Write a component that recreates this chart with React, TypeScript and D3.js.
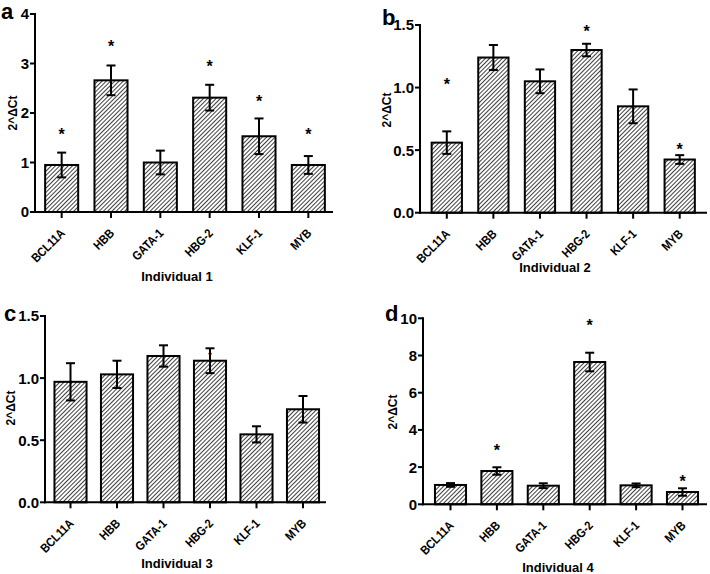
import React from "react";
import * as d3 from "d3";

const categories = ["BCL11A", "HBB", "GATA-1", "HBG-2", "KLF-1", "MYB"];

const values1 = [0.95, 2.66, 1.0, 2.31, 1.53, 0.95];
const errors1 = [0.25, 0.3, 0.24, 0.26, 0.36, 0.18];
const stars1 = [1.64, 3.41, null, 3.01, 2.3, 1.64];

const values2 = [0.56, 1.24, 1.05, 1.3, 0.85, 0.425];
const errors2 = [0.09, 0.1, 0.095, 0.05, 0.135, 0.035];
const stars2 = [1.05, null, null, 1.48, null, 0.535];

const values3 = [0.97, 1.03, 1.178, 1.14, 0.547, 0.749];
const errors3 = [0.15, 0.11, 0.086, 0.1, 0.065, 0.107];
const smallStars3 = [0.98, null, null, 1.2, null, null];

const values4 = [1.04, 1.79, 1.0, 7.65, 1.02, 0.66];
const errors4 = [0.1, 0.2, 0.13, 0.5, 0.1, 0.2];
const stars4 = [null, 3.06, null, 9.78, null, 1.43];

const ticks1 = [0, 1, 2, 3, 4];
const ticks2 = [0, 0.5, 1.0, 1.5];
const ticks4 = [0, 2, 4, 6, 8, 10];

const FONT = "'Liberation Sans', Arial, sans-serif";

type PanelProps = {
  letter: string;
  title: string;
  values: number[];
  errors: number[];
  stars: (number | null)[];
  smallStars?: (number | null)[];
  ticks: number[];
  fmt: string;
  axisX: [number, number];
  bandRange: [number, number];
  yRange: [number, number];
  pad: number;
  letterPos: [number, number];
  yLabelPos: [number, number];
  titlePos: [number, number];
};

function Panel(p: PanelProps) {
  const x = d3
    .scaleBand<string>()
    .domain(categories)
    .range(p.bandRange)
    .paddingInner(p.pad)
    .paddingOuter(p.pad / 2);
  const y = d3
    .scaleLinear()
    .domain([p.ticks[0], p.ticks[p.ticks.length - 1]])
    .range(p.yRange);
  const f = d3.format(p.fmt);
  const y0 = y(0);
  const bw = x.bandwidth();
  const cap = 4.5;
  return (
    <g>
      <text x={p.letterPos[0]} y={p.letterPos[1]} fontSize={22} fontWeight="bold" fontFamily={FONT}>
        {p.letter}
      </text>
      {categories.map((c, i) => {
        const cx = (x(c) as number) + bw / 2;
        const v = p.values[i];
        const e = p.errors[i];
        return (
          <g key={c}>
            <rect
              x={x(c)}
              y={y(v)}
              width={bw}
              height={y0 - y(v)}
              fill="url(#hatch)"
              stroke="#000"
              strokeWidth={2}
            />
            <line x1={cx} x2={cx} y1={y(v + e)} y2={y(v - e)} stroke="#000" strokeWidth={2} />
            <line x1={cx - cap} x2={cx + cap} y1={y(v + e)} y2={y(v + e)} stroke="#000" strokeWidth={2} />
            <line x1={cx - cap} x2={cx + cap} y1={y(v - e)} y2={y(v - e)} stroke="#000" strokeWidth={2} />
            {p.stars[i] != null && (
              <text
                x={cx}
                y={y(p.stars[i] as number) + 9}
                textAnchor="middle"
                fontSize={16}
                fontWeight="bold"
                fontFamily={FONT}
              >
                *
              </text>
            )}
            {p.smallStars && p.smallStars[i] != null && (
              <text
                x={cx}
                y={y(p.smallStars[i] as number) + 5}
                textAnchor="middle"
                fontSize={9}
                fontWeight="bold"
                fontFamily={FONT}
              >
                *
              </text>
            )}
            <line x1={cx} x2={cx} y1={y0} y2={y0 + 6} stroke="#000" strokeWidth={2} />
            <text
              transform={`translate(${cx + 4},${y0 + 22}) rotate(-45) scale(0.86,1)`}
              textAnchor="end"
              fontSize={12.5}
              fontWeight="bold"
              fontFamily={FONT}
            >
              {c}
            </text>
          </g>
        );
      })}
      <line x1={p.axisX[0]} x2={p.axisX[0]} y1={y(p.ticks[p.ticks.length - 1]) - 1} y2={y0 + 1} stroke="#000" strokeWidth={2} />
      <line x1={p.axisX[0] - 1} x2={p.axisX[1]} y1={y0} y2={y0} stroke="#000" strokeWidth={2} />
      {p.ticks.map((t) => (
        <g key={t}>
          <line x1={p.axisX[0] - 5} x2={p.axisX[0]} y1={y(t)} y2={y(t)} stroke="#000" strokeWidth={2} />
          <text
            x={p.axisX[0] - 6}
            y={y(t)}
            dy="0.36em"
            textAnchor="end"
            fontSize={15}
            fontWeight="bold"
            fontFamily={FONT}
          >
            {f(t)}
          </text>
        </g>
      ))}
      <text
        transform={`translate(${p.yLabelPos[0]},${p.yLabelPos[1]}) rotate(-90)`}
        textAnchor="middle"
        dy="0.35em"
        fontSize={12}
        fontWeight="bold"
        fontFamily={FONT}
      >
        2^ΔCt
      </text>
      <text
        x={p.titlePos[0]}
        y={p.titlePos[1]}
        textAnchor="middle"
        fontSize={13}
        fontWeight="bold"
        fontFamily={FONT}
      >
        {p.title}
      </text>
    </g>
  );
}

export default function App() {
  return (
    <svg width={710} height={574} style={{ position: "absolute", left: 0, top: 0, background: "#fff" }}>
      <defs>
        <pattern id="hatch" patternUnits="userSpaceOnUse" width={3} height={3} patternTransform="rotate(45)">
          <rect width={3} height={3} fill="#fff" />
          <line x1={0} y1={0} x2={0} y2={3} stroke="#000" strokeWidth={1.5} />
        </pattern>
      </defs>
      <rect width={710} height={574} fill="#fff" />
      <Panel
        letter="a"
        title="Individual 1"
        values={values1}
        errors={errors1}
        stars={stars1}
        ticks={ticks1}
        fmt="d"
        axisX={[35, 333]}
        bandRange={[37, 333]}
        yRange={[212, 14]}
        pad={0.33}
        letterPos={[1, 19]}
        yLabelPos={[13, 113]}
        titlePos={[177, 281]}
      />
      <Panel
        letter="b"
        title="Individual 2"
        values={values2}
        errors={errors2}
        stars={stars2}
        ticks={ticks2}
        fmt=".1f"
        axisX={[420, 707]}
        bandRange={[423.5, 703]}
        yRange={[212.7, 25]}
        pad={0.35}
        letterPos={[382, 25]}
        yLabelPos={[387, 110]}
        titlePos={[555, 272]}
      />
      <Panel
        letter="c"
        title="Individual 3"
        values={values3}
        errors={errors3}
        stars={[null, null, null, null, null, null]}
        smallStars={smallStars3}
        ticks={ticks2}
        fmt=".1f"
        axisX={[45, 326]}
        bandRange={[47.25, 326.25]}
        yRange={[502.3, 316]}
        pad={0.31}
        letterPos={[4, 321]}
        yLabelPos={[11, 408]}
        titlePos={[177, 568]}
      />
      <Panel
        letter="d"
        title="Individual 4"
        values={values4}
        errors={errors4}
        stars={stars4}
        ticks={ticks4}
        fmt="d"
        axisX={[423, 707]}
        bandRange={[427.3, 705.7]}
        yRange={[504.3, 318.3]}
        pad={0.33}
        letterPos={[385, 321]}
        yLabelPos={[393, 412]}
        titlePos={[558, 572]}
      />
    </svg>
  );
}
